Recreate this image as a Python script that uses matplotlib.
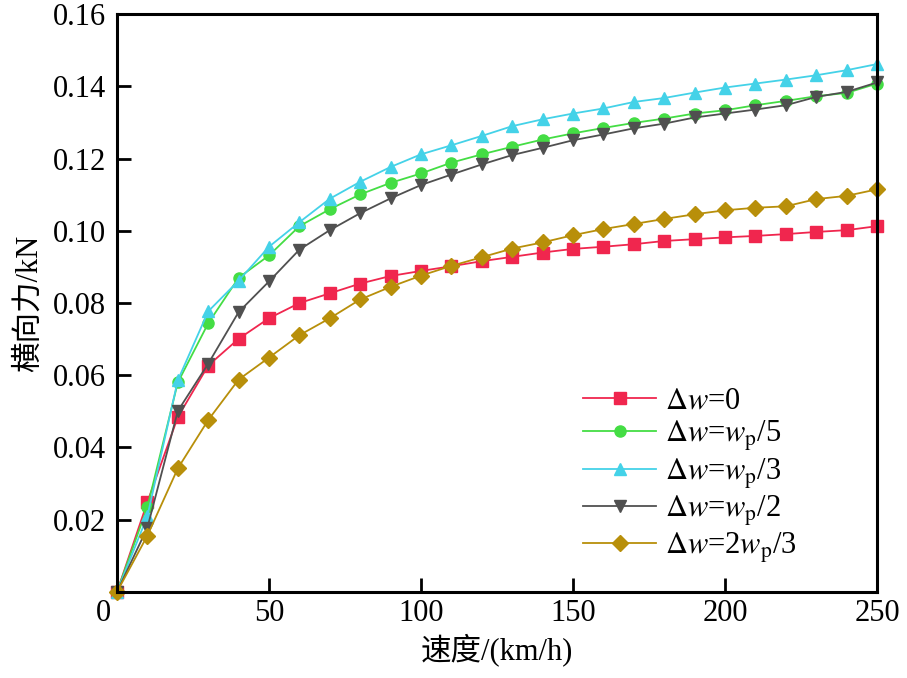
import numpy as np
import matplotlib.pyplot as plt
import matplotlib.transforms as mtransforms

plt.rcParams['font.family'] = ['Liberation Serif', 'Noto Sans CJK SC']
plt.rcParams['mathtext.fontset'] = 'stix'

# 速度 km/h
speed = np.arange(0, 260, 10)

# 横向力 kN
f_dw0 = [0, 0.0249, 0.0484, 0.0627, 0.0701, 0.0758, 0.0800, 0.0827, 0.0854, 0.0875,
         0.0889, 0.0902, 0.0916, 0.0928, 0.0940, 0.0950, 0.0956, 0.0963, 0.0972, 0.0977,
         0.0982, 0.0986, 0.0991, 0.0997, 0.1002, 0.1013]
f_dw5 = [0, 0.0235, 0.0580, 0.0744, 0.0870, 0.0932, 0.1013, 0.1060, 0.1101, 0.1133,
         0.1159, 0.1189, 0.1212, 0.1233, 0.1253, 0.1270, 0.1285, 0.1299, 0.1311, 0.1325,
         0.1334, 0.1348, 0.1360, 0.1373, 0.1382, 0.1408]
f_dw3 = [0, 0.0210, 0.0586, 0.0777, 0.0862, 0.0956, 0.1024, 0.1089, 0.1136, 0.1177,
         0.1212, 0.1237, 0.1263, 0.1290, 0.1309, 0.1325, 0.1339, 0.1357, 0.1368, 0.1383,
         0.1397, 0.1408, 0.1419, 0.1431, 0.1445, 0.1462]
f_dw2 = [0, 0.0178, 0.0501, 0.0632, 0.0775, 0.0860, 0.0948, 0.1002, 0.1049, 0.1090,
         0.1127, 0.1156, 0.1184, 0.1210, 0.1230, 0.1251, 0.1267, 0.1284, 0.1297, 0.1314,
         0.1325, 0.1336, 0.1348, 0.1371, 0.1385, 0.1411]
f_dw23 = [0, 0.0156, 0.0342, 0.0476, 0.0588, 0.0649, 0.0711, 0.0758, 0.0810, 0.0845,
          0.0876, 0.0903, 0.0927, 0.0951, 0.0968, 0.0988, 0.1005, 0.1019, 0.1033, 0.1046,
          0.1057, 0.1064, 0.1068, 0.1088, 0.1097, 0.1115]

labels = [r'$\Delta w$=0', r'$\Delta w$=$w_{\mathrm{p}}$/5', r'$\Delta w$=$w_{\mathrm{p}}$/3',
          r'$\Delta w$=$w_{\mathrm{p}}$/2', r'$\Delta w$=2$w_{\mathrm{p}}$/3']

fig = plt.figure(figsize=(9.07, 6.78), dpi=100)
ax = fig.add_axes([0.129, 0.127, 0.838, 0.852])

series = [f_dw0, f_dw5, f_dw3, f_dw2, f_dw23]
colors = ['#F0264E', '#44DD44', '#44D2E8', '#505050', '#B88F0A']
markers = ['s', 'o', '^', 'v', 'D']
sizes = [8, 8, 9, 9, 8]
for y, c, m, ms, lab in zip(series, colors, markers, sizes, labels):
    ax.plot(speed, y, color=c, marker=m, markersize=ms, lw=1.3, label=lab, clip_on=False)

ax.set_xlim(0, 250)
ax.set_ylim(0, 0.16)
ax.set_xticks([0, 50, 100, 150, 200, 250])
ax.set_yticks([0.02, 0.04, 0.06, 0.08, 0.10, 0.12, 0.14, 0.16])
ax.set_yticklabels(['0.02', '0.04', '0.06', '0.08', '0.10', '0.12', '0.14', '0.16'])
ax.tick_params(direction='in', length=10, width=2, labelsize=22, pad=8)
ax.tick_params(axis='x', pad=5)
for s in ax.spines.values():
    s.set_linewidth(2.2)

# 原点的 "0" 稍微往左移
lbl0 = ax.get_xticklabels()[0]
lbl0.set_transform(lbl0.get_transform() + mtransforms.ScaledTranslation(-0.14, 0, fig.dpi_scale_trans))

ax.set_xlabel('速度/(km/h)', fontsize=22, labelpad=4)
ax.set_ylabel('横向力/kN', fontsize=22, labelpad=6)

ax.legend(loc='upper left', bbox_to_anchor=(0.597, 0.376), frameon=False, fontsize=22,
          handlelength=2.4, handletextpad=0.3, labelspacing=0.1, borderaxespad=0)

fig.savefig('out.png', dpi=100)
